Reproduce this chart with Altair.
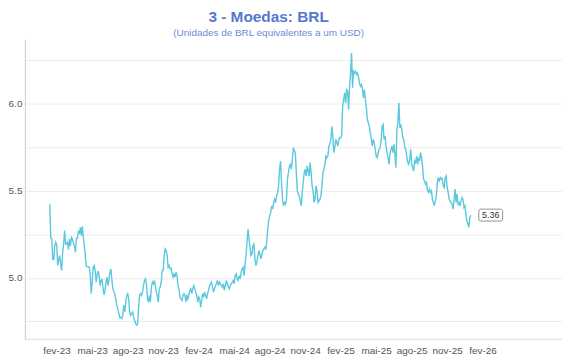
import altair as alt
import pandas as pd

# BRL per USD (roughly one reading per ~2.3 days)
rates_2023a = [5.423, 5.227, 5.223, 5.105, 5.105, 5.185, 5.204, 5.189, 5.071, 5.105,
               5.128, 5.080, 5.042, 5.147, 5.194, 5.271, 5.194, 5.194, 5.204, 5.162,
               5.223, 5.185, 5.238, 5.219, 5.200, 5.181, 5.147, 5.227, 5.227, 5.271,
               5.252, 5.290, 5.242, 5.295, 5.233, 5.185, 5.128, 5.065, 5.063, 5.063,
               5.063, 5.013, 4.909, 4.975, 5.061, 5.071, 5.042, 4.975, 5.017, 5.038,
               5.013, 4.956, 4.985, 4.991, 4.937, 4.903, 4.933, 4.975, 5.004, 4.956,
               4.994, 5.032, 5.051, 4.985, 4.937, 4.922, 4.905, 4.874, 4.842, 4.819,
               4.794, 4.771, 4.773]
rates_2023b = [4.766, 4.785, 4.842, 4.804, 4.861, 4.899, 4.909, 4.880, 4.804, 4.785,
               4.794, 4.804, 4.775, 4.756, 4.737, 4.728, 4.737, 4.823, 4.899, 4.909,
               4.899, 4.918, 4.956, 4.985, 4.994, 4.966, 4.880, 4.861, 4.899, 4.861,
               4.947, 4.975, 4.966, 4.985, 4.956, 4.918, 4.899, 4.861, 4.937, 4.947,
               4.975, 5.042, 5.042, 5.128, 5.166, 5.156, 5.128, 5.061, 5.071, 5.051,
               5.055, 5.023, 5.004, 5.023, 5.004, 5.032, 5.013, 4.956, 4.937, 4.890,
               4.880, 4.870, 4.899, 4.909, 4.899, 4.861, 4.903, 4.880, 4.899, 4.928,
               4.937, 4.909, 4.937, 4.956]
rates_2024a = [4.937, 4.918, 4.899, 4.861, 4.890, 4.880, 4.832, 4.870, 4.909, 4.890,
               4.918, 4.899, 4.880, 4.909, 4.928, 4.956, 4.966, 4.975, 4.947, 4.918,
               4.937, 4.956, 4.966, 4.985, 4.956, 4.975, 4.966, 4.956, 4.947, 4.966,
               4.928, 4.956, 4.985, 4.966, 4.947, 4.937, 4.956, 4.966, 4.975, 4.985,
               4.966, 5.013, 5.023, 4.994, 4.985, 5.013, 4.994, 5.032, 5.051, 5.061,
               5.013, 5.080, 5.128, 5.204, 5.280, 5.223, 5.175, 5.128, 5.137, 5.185,
               5.194, 5.109, 5.070, 5.090, 5.128, 5.156, 5.137, 5.109, 5.128, 5.156,
               5.166, 5.175, 5.166, 5.204]
rates_2024b = [5.280, 5.328, 5.356, 5.375, 5.413, 5.394, 5.432, 5.451, 5.432, 5.470,
               5.490, 5.528, 5.623, 5.670, 5.547, 5.451, 5.413, 5.432, 5.423, 5.451,
               5.566, 5.604, 5.642, 5.651, 5.623, 5.680, 5.747, 5.728, 5.718, 5.604,
               5.499, 5.480, 5.470, 5.442, 5.413, 5.490, 5.547, 5.604, 5.623, 5.585,
               5.642, 5.613, 5.585, 5.661, 5.604, 5.528, 5.499, 5.432, 5.451, 5.528,
               5.499, 5.432, 5.442, 5.451, 5.470, 5.528, 5.604, 5.623, 5.651, 5.699,
               5.690, 5.699, 5.756, 5.766, 5.794, 5.870, 5.813, 5.718, 5.747, 5.794,
               5.775, 5.756, 5.794, 5.804]
rates_2025a = [5.804, 5.813, 5.985, 6.023, 6.061, 6.004, 6.080, 6.070, 5.966, 6.099,
               6.175, 6.290, 6.090, 6.185, 6.175, 6.185, 6.166, 6.175, 6.156, 6.118,
               6.099, 6.109, 6.090, 6.032, 6.080, 6.023, 5.975, 5.909, 5.890, 5.870,
               5.832, 5.804, 5.756, 5.794, 5.775, 5.737, 5.699, 5.690, 5.718, 5.737,
               5.747, 5.785, 5.870, 5.880, 5.794, 5.813, 5.756, 5.718, 5.690, 5.651,
               5.709, 5.737, 5.756, 5.718, 5.766, 5.709, 5.632, 5.851, 5.890, 6.004,
               5.861, 5.880, 5.851, 5.804, 5.794, 5.747, 5.737, 5.699, 5.661, 5.651,
               5.680, 5.737, 5.651, 5.632, 5.613, 5.670]
rates_2025b = [5.661, 5.699, 5.651, 5.690, 5.671, 5.718, 5.690, 5.642, 5.566, 5.556,
               5.537, 5.547, 5.499, 5.490, 5.509, 5.490, 5.499, 5.451, 5.432, 5.413,
               5.442, 5.471, 5.547, 5.575, 5.556, 5.575, 5.566, 5.570, 5.528, 5.518,
               5.575, 5.585, 5.518, 5.490, 5.451, 5.442, 5.432, 5.423, 5.394, 5.451,
               5.509, 5.432, 5.480, 5.423, 5.432, 5.413, 5.442, 5.461, 5.451, 5.404,
               5.413, 5.366, 5.328, 5.309, 5.290, 5.347, 5.360]

values = rates_2023a + rates_2023b + rates_2024a + rates_2024b + rates_2025a + rates_2025b
dates = pd.date_range("2023-01-02", periods=len(values), freq="56h")

tick_dates = ["2023-01-18", "2023-04-12", "2023-07-05", "2023-09-27", "2023-12-20",
              "2024-03-13", "2024-06-05", "2024-08-28", "2024-11-20", "2025-02-12",
              "2025-05-07", "2025-07-30", "2025-10-22"]
tick_labels = ["fev-23", "mai-23", "ago-23", "nov-23", "fev-24", "mai-24", "ago-24",
               "nov-24", "fev-25", "mai-25", "ago-25", "nov-25", "fev-26"]
y_ticks = [4.75, 5.0, 5.25, 5.5, 5.75, 6.0, 6.25]

df = pd.DataFrame({"date": dates, "value": values})
last = df.tail(1)

label_map = "{" + ",".join(f"'{d}':'{l}'" for d, l in zip(tick_dates, tick_labels)) + "}"

x_scale = alt.Scale(domain=[alt.DateTime(year=2022, month=11, date=4),
                            alt.DateTime(year=2026, month=4, date=28)])
y_scale = alt.Scale(domain=[4.65, 6.37], nice=False, zero=False)

x_enc = alt.X("date:T", scale=x_scale, title=None,
              axis=alt.Axis(values=[alt.DateTime(year=int(d[:4]), month=int(d[5:7]), date=int(d[8:]))
                                    for d in tick_dates],
                            labelExpr=f"{label_map}[timeFormat(datum.value, '%Y-%m-%d')]",
                            labelOverlap=False,
                            ticks=False, grid=False, domainColor="#dddddd",
                            labelColor="#555555", labelFontSize=10, labelPadding=7,
                            labelFont="Liberation Sans"))
y_enc = alt.Y("value:Q", scale=y_scale, title=None,
              axis=alt.Axis(values=y_ticks,
                            labelExpr="datum.value % 0.5 == 0 ? format(datum.value, '.1f') : ''",
                            ticks=False, gridColor="#ececec", domainColor="#cccccc",
                            labelColor="#555555", labelFontSize=10, labelPadding=3,
                            labelFont="Liberation Sans"))

line = alt.Chart(df).mark_line(color="#5bc8de", strokeWidth=1.4).encode(x=x_enc, y=y_enc)

box = alt.Chart(last).mark_rect(fill="white", stroke="#777777", strokeWidth=0.8,
                                cornerRadius=2, xOffset=8, x2Offset=32,
                                yOffset=-6, y2Offset=6).encode(
    x="date:T", x2="date:T", y="value:Q", y2="value:Q")
txt = alt.Chart(last).mark_text(dx=20, fontSize=9, color="#333333",
                                font="Liberation Sans").encode(
    x="date:T", y="value:Q", text=alt.Text("value:Q", format=".2f"))

chart = alt.layer(line, box, txt).properties(
    width=541, height=302,
    padding={"left": 0, "right": 0, "top": 0, "bottom": 0},
    title=alt.TitleParams(
        "3 - Moedas: BRL",
        subtitle="(Unidades de BRL equivalentes a um USD)",
        font="Liberation Sans", fontSize=15.5, fontWeight="bold", color="#5577cc",
        subtitleFont="Liberation Sans", subtitleFontSize=10, subtitleColor="#6d8ad6",
        subtitlePadding=3, offset=1, anchor="middle", dx=-25),
).configure_view(stroke=None)

chart.save("out.html", embed_options={"renderer": "svg", "actions": False})
